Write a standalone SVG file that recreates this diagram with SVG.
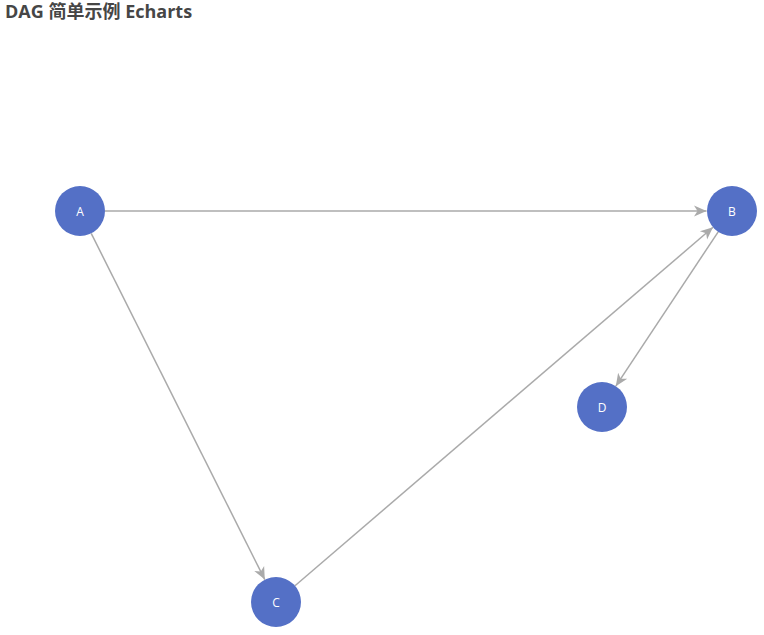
<svg xmlns="http://www.w3.org/2000/svg" width="764" height="635" viewBox="0 0 764 635">
<style>
.title{font-family:"Open Sans","Noto Sans CJK SC",sans-serif;font-size:18px;font-weight:bold;fill:#464646}
.edge{stroke:#aaaaaa;stroke-width:1.5;fill:none}
.node{fill:#5470c6}
.lbl{font-family:"Open Sans","Liberation Sans",sans-serif;font-size:12px;fill:#ffffff;text-anchor:middle;dominant-baseline:central}
</style>
<defs>
<marker id="arr" markerUnits="userSpaceOnUse" markerWidth="14" markerHeight="14" viewBox="0 0 14 14" refX="12.5" refY="7" orient="auto">
<path d="M0,1.5 L12.5,7 L0,12.5 L3.5,7 z" fill="#aaaaaa"/>
</marker>
</defs>
<rect width="764" height="635" fill="#ffffff"/>
<text class="title" x="5" y="18">DAG 简单示例 Echarts</text>
<g id="edges">
<line class="edge" x1="105" y1="211" x2="706.5" y2="211" marker-end="url(#arr)"/>
<line class="edge" x1="91.2" y1="233.4" x2="264.8" y2="579.6" marker-end="url(#arr)"/>
<line class="edge" x1="295" y1="585.7" x2="713" y2="227.3" marker-end="url(#arr)"/>
<line class="edge" x1="718.2" y1="231.8" x2="615.8" y2="386.2" marker-end="url(#arr)"/>
</g>
<g id="node-A"><circle class="node" cx="80" cy="211" r="25"/><text class="lbl" x="80" y="211">A</text></g>
<g id="node-B"><circle class="node" cx="732" cy="211" r="25"/><text class="lbl" x="732" y="211">B</text></g>
<g id="node-C"><circle class="node" cx="276" cy="602" r="25"/><text class="lbl" x="276" y="602">C</text></g>
<g id="node-D"><circle class="node" cx="602" cy="407" r="25"/><text class="lbl" x="602" y="407">D</text></g>
</svg>
